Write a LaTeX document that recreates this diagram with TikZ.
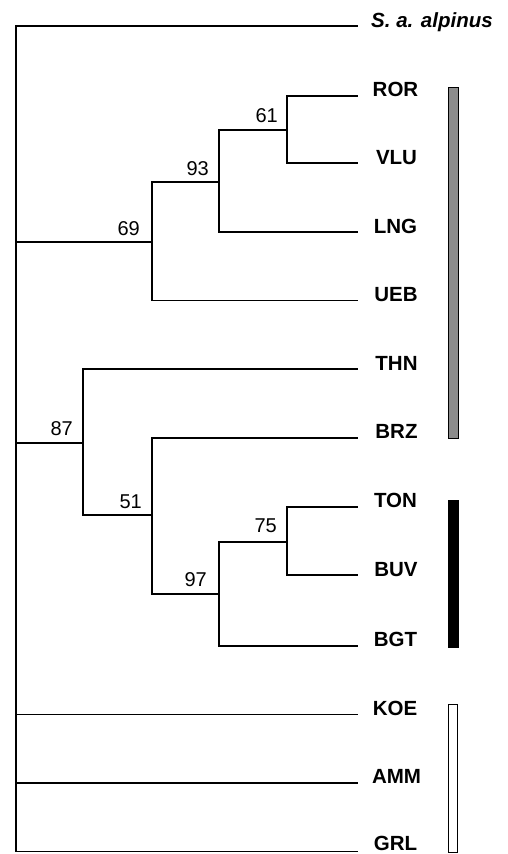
\documentclass[tikz,border=0pt]{standalone}
\usepackage{fontspec}
\setmainfont{Liberation Sans}
\usetikzlibrary{calc}
\begin{document}
\begin{tikzpicture}[x=1pt,y=-1pt,
  branch/.style={line width=1.8pt,line cap=rect},
  leaf/.style={font=\fontsize{20.5}{24}\selectfont\bfseries,anchor=base,inner sep=0pt},
  boot/.style={font=\fontsize{20}{23}\selectfont,anchor=base east,inner sep=0pt},
  bar/.style={draw=black,line width=0.9pt}]
\useasboundingbox (0,0) rectangle (508,854);
% leaf ends
\coordinate (eALP) at (357,26);
\coordinate (eROR) at (357,95.7);
\coordinate (eVLU) at (357,163);
\coordinate (eLNG) at (357,232);
\coordinate (eUEB) at (357,300.5);
\coordinate (eTHN) at (357,369);
\coordinate (eBRZ) at (357,437.7);
\coordinate (eTON) at (357,506.7);
\coordinate (eBUV) at (357,575);
\coordinate (eBGT) at (357,645.7);
\coordinate (eKOE) at (357,714.5);
\coordinate (eAMM) at (357,782.7);
\coordinate (eGRL) at (357,851.5);
% internal nodes
\coordinate (n61) at (287,130);
\coordinate (n93) at (219,181.7);
\coordinate (n69) at (152,242);
\coordinate (n75) at (287,541.7);
\coordinate (n97) at (219,594);
\coordinate (n51) at (152,515);
\coordinate (n87) at (83,442.7);
\coordinate (rtop) at (16,26);
\coordinate (rbot) at (16,851.5);
% tree
\draw[branch] (eALP) -- (rtop) -- (rbot) -- (eGRL);
\draw[branch] (eROR) -| (n61) |- (eVLU);
\draw[branch] (n61) -| (n93) |- (eLNG);
\draw[branch] (n93) -| (n69) |- (eUEB);
\draw[branch] (n69) -- (n69 -| rtop);
\draw[branch] (eTON) -| (n75) |- (eBUV);
\draw[branch] (n75) -| (n97) |- (eBGT);
\draw[branch] (eBRZ) -| (n51) |- (n97);
\draw[branch] (eTHN) -| (n87) |- (n51);
\draw[branch] (n87) -- (n87 -| rtop);
\draw[branch] (eKOE) -- (eKOE -| rtop);
\draw[branch] (eAMM) -- (eAMM -| rtop);
% leaf labels
\node[font=\fontsize{20.5}{24}\selectfont\bfseries\itshape,anchor=base west,inner sep=0pt] (lALP) at (371,27.5) {S. a. alpinus};
\node[leaf] (lROR) at (395.5,96.7) {ROR};
\node[leaf] (lVLU) at (396.5,164) {VLU};
\node[leaf] (lLNG) at (395.5,233) {LNG};
\node[leaf] (lUEB) at (396,301.5) {UEB};
\node[leaf] (lTHN) at (396.5,370) {THN};
\node[leaf] (lBRZ) at (396.5,438.7) {BRZ};
\node[leaf] (lTON) at (395.5,507.7) {TON};
\node[leaf] (lBUV) at (396,576) {BUV};
\node[leaf] (lBGT) at (395.5,646.7) {BGT};
\node[leaf] (lKOE) at (395,715.5) {KOE};
\node[leaf] (lAMM) at (396.5,783.7) {AMM};
\node[leaf] (lGRL) at (395.5,850.5) {GRL};
% bootstrap values
\node[boot] (b61) at ($(n61)+(-9,-8)$) {61};
\node[boot] (b93) at ($(n93)+(-10,-6)$) {93};
\node[boot] (b69) at ($(n69)+(-12,-7)$) {69};
\node[boot] (b87) at ($(n87)+(-10,-7)$) {87};
\node[boot] (b51) at ($(n51)+(-10,-7)$) {51};
\node[boot] (b75) at ($(n75)+(-10,-9)$) {75};
\node[boot] (b97) at ($(n97)+(-12,-8)$) {97};
% bars
\draw[bar,fill=black!45] (448,87) rectangle (458,438);
\draw[bar,fill=black] (448,500) rectangle (458,647);
\draw[bar,fill=white] (448,704) rectangle (457.5,852.5);
\end{tikzpicture}
\end{document}
